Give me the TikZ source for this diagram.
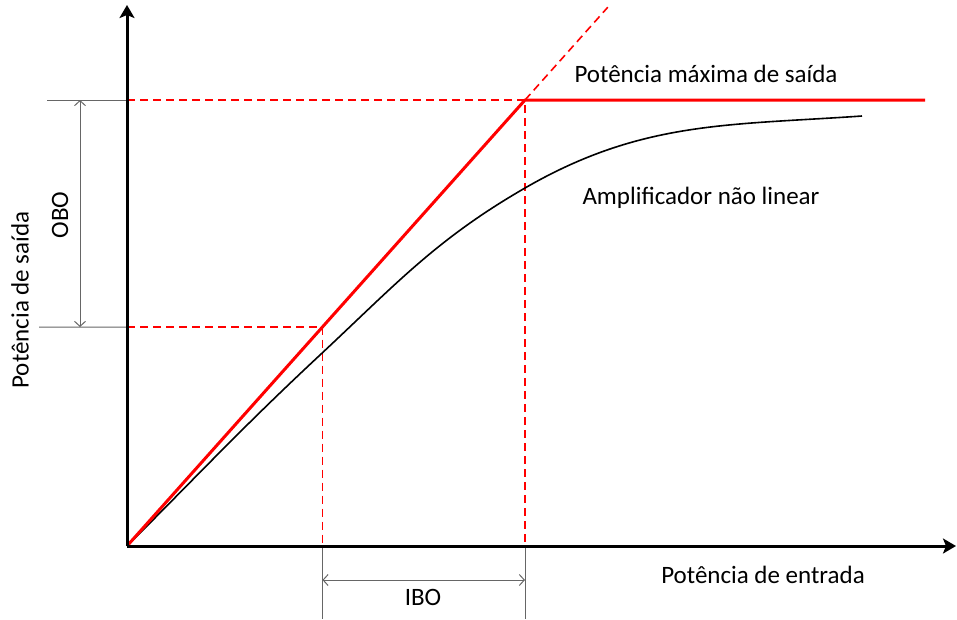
\documentclass[tikz,border=0pt]{standalone}
\usepackage{fontspec}
\setmainfont{Carlito}
\usetikzlibrary{arrows}
\usetikzlibrary{arrows.meta}
\usetikzlibrary{positioning}
\usetikzlibrary{calc}

\begin{document}
\begin{tikzpicture}[x=1pt,y=-1pt,semithick,font=\fontsize{25}{30}\selectfont]
	\tikzstyle{axis}=[line width=3pt,-{Stealth[length=13pt,width=15pt,inset=3pt]}]
	\tikzstyle{ideal}=[red,line width=3pt,line join=round]
	\tikzstyle{guide}=[red,line width=1.6pt,dash pattern=on 8pt off 5pt]
	\tikzstyle{dim}=[black!60,line width=1pt]
	\tikzstyle{dimarrow}=[dim,{Straight Barb[length=5pt,width=11pt]}-{Straight Barb[length=5pt,width=11pt]}]
	\tikzstyle{curve}=[black,line width=1.6pt]
	
	\useasboundingbox (0,0) rectangle (957,619);
	
	\coordinate (O)    at (127,546);
	\coordinate (Ytip) at (127,5);
	\coordinate (Xtip) at (956,546);
	\coordinate (Sat)  at (525,100);
	\coordinate (SatE) at (925,100);
	\coordinate (Op)   at ($(O)!0.491!(Sat)$);
	\coordinate (Ext)  at ($(O)!1.208!(Sat)$);
	
	% guide lines
	\draw[dim] (47,100) -- (O |- Sat);
	\draw[dim] (39,327) -- (O |- Op);
	\draw[dim] (Sat |- O) -- (Sat |- 0,619);
	\draw[dim] (Op |- O)  -- (Op |- 0,619);
	\draw[guide] (O |- Sat) -- (Sat) -- (Sat |- O);
	\draw[guide] (O |- Op) -- (Op) -- (Op |- O);
	\draw[guide] (Sat) -- (Ext);
	
	% OBO and IBO
	\coordinate (oboT) at (80,100);
	\coordinate (oboB) at (80,327);
	\coordinate (iboL) at (Op |- 0,580);
	\coordinate (iboR) at (Sat |- 0,580);
	\draw[dimarrow] (oboT) -- (oboB);
	\draw[dimarrow] (iboL) -- (iboR);
	\node[rotate=90] (obo) at (60,215) {OBO};
	\node (ibo) at (423,597) {IBO};
	
	% amplifier curve
	\coordinate (K2) at (320,355);
	\coordinate (K3) at (525,188);
	\coordinate (K5) at (862,116);
	\draw[curve] (O) to[out=45,in=223] (K2) to[out=43,in=210] (K3) to[out=30,in=184] (K5);
	
	% ideal amplifier
	\draw[ideal] (O) -- (Sat) -- (SatE);
	
	% axes
	\draw[axis] (O) -- (Ytip);
	\draw[axis] (O) -- (Xtip);
	
	\node (maxout) at (706,74)  {Potência máxima de saída};
	\node (nonlin) at (701,198) {Amplificador não linear};
	\node (xlabel) at (763,575) {Potência de entrada};
	\node[rotate=90] (ylabel) at (20,300) {Potência de saída};
\end{tikzpicture}
\end{document}
